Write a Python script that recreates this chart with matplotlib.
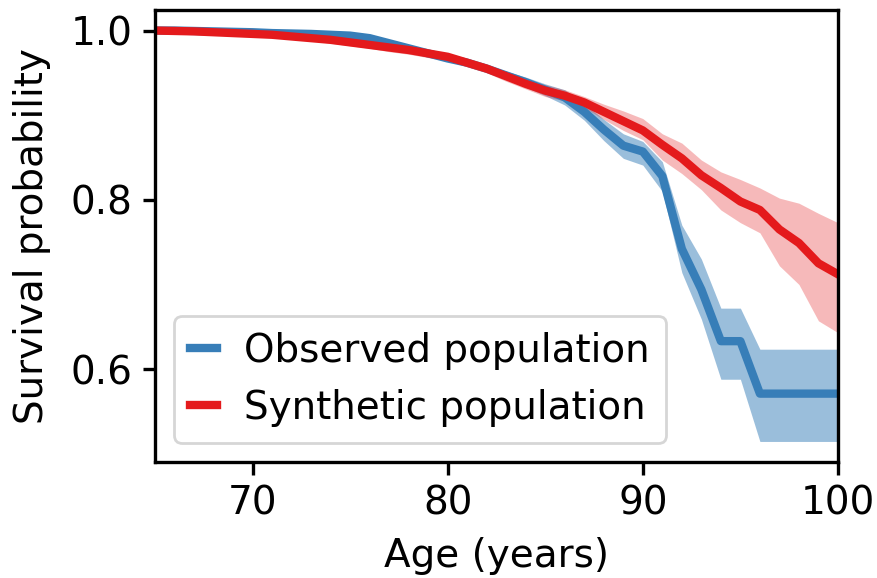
import numpy as np
import matplotlib
matplotlib.use("Agg")
import matplotlib.pyplot as plt

# yearly ages on the x axis
ages = np.arange(65, 101)

# observed population survival with its confidence band
obs_surv = [1.000, 1.000, 0.9995, 0.999, 0.9985, 0.998, 0.997, 0.9965, 0.996, 0.995,
            0.994, 0.991, 0.985, 0.979, 0.973, 0.967, 0.962, 0.955, 0.947, 0.939,
            0.930, 0.921, 0.904, 0.883, 0.864, 0.857, 0.828, 0.742, 0.694, 0.633,
            0.633, 0.571, 0.571, 0.571, 0.571, 0.571]
obs_upper = [1.000, 1.000, 1.000, 1.000, 0.9995, 0.999, 0.998, 0.998, 0.9975, 0.997,
             0.996, 0.994, 0.988, 0.982, 0.976, 0.970, 0.966, 0.959, 0.952, 0.945,
             0.937, 0.930, 0.914, 0.895, 0.878, 0.869, 0.845, 0.770, 0.730, 0.672,
             0.672, 0.6235, 0.6235, 0.6235, 0.6235, 0.6235]
obs_lower = [1.000, 0.999, 0.999, 0.998, 0.9975, 0.997, 0.996, 0.995, 0.9945, 0.993,
             0.992, 0.988, 0.982, 0.976, 0.970, 0.964, 0.958, 0.951, 0.942, 0.933,
             0.923, 0.912, 0.894, 0.870, 0.849, 0.841, 0.810, 0.714, 0.659, 0.588,
             0.588, 0.5145, 0.5145, 0.5145, 0.5145, 0.5145]

# synthetic population survival with its confidence band
syn_surv = [1.000, 0.9995, 0.999, 0.998, 0.997, 0.996, 0.995, 0.993, 0.991, 0.989,
            0.986, 0.983, 0.980, 0.977, 0.973, 0.969, 0.962, 0.955, 0.946, 0.937,
            0.929, 0.923, 0.915, 0.904, 0.893, 0.882, 0.865, 0.849, 0.829, 0.814,
            0.798, 0.788, 0.765, 0.749, 0.725, 0.712]
syn_upper = [1.000, 1.000, 0.9995, 0.999, 0.998, 0.998, 0.997, 0.996, 0.994, 0.993,
             0.990, 0.987, 0.984, 0.981, 0.977, 0.973, 0.967, 0.960, 0.952, 0.943,
             0.936, 0.930, 0.922, 0.913, 0.905, 0.896, 0.878, 0.867, 0.847, 0.833,
             0.824, 0.814, 0.802, 0.796, 0.784, 0.773]
syn_lower = [1.000, 0.999, 0.998, 0.997, 0.995, 0.994, 0.992, 0.990, 0.988, 0.985,
             0.982, 0.979, 0.975, 0.972, 0.968, 0.964, 0.957, 0.950, 0.940, 0.931,
             0.922, 0.917, 0.909, 0.895, 0.882, 0.871, 0.847, 0.831, 0.812, 0.788,
             0.773, 0.761, 0.722, 0.700, 0.657, 0.643]

blue = "#377eb8"
red = "#e41a1c"

plt.rcParams["font.size"] = 14

fig = plt.figure(figsize=(4.39, 2.89), dpi=200)
ax = fig.add_axes([0.1765, 0.2007, 0.7779, 0.782])

ax.fill_between(ages, obs_lower, obs_upper, color=blue, alpha=0.5, linewidth=0)
ax.plot(ages, obs_surv, color=blue, linewidth=3, label="Observed population")
ax.fill_between(ages, syn_lower, syn_upper, color=red, alpha=0.3, linewidth=0)
ax.plot(ages, syn_surv, color=red, linewidth=3, label="Synthetic population")

ax.set_xlim(65, 100)
ax.set_xticks([70, 80, 90, 100])
ax.set_yticks([0.6, 0.8, 1.0])
ax.set_xlabel("Age (years)", labelpad=5.5)
ax.set_ylabel("Survival probability", labelpad=7)

for side in ax.spines.values():
    side.set_linewidth(1.2)
ax.tick_params(width=1.2, length=4.5)

ax.legend(loc="lower left", handlelength=0.7, handletextpad=0.7,
          borderaxespad=0.5)

fig.savefig("out.png", dpi=200)
